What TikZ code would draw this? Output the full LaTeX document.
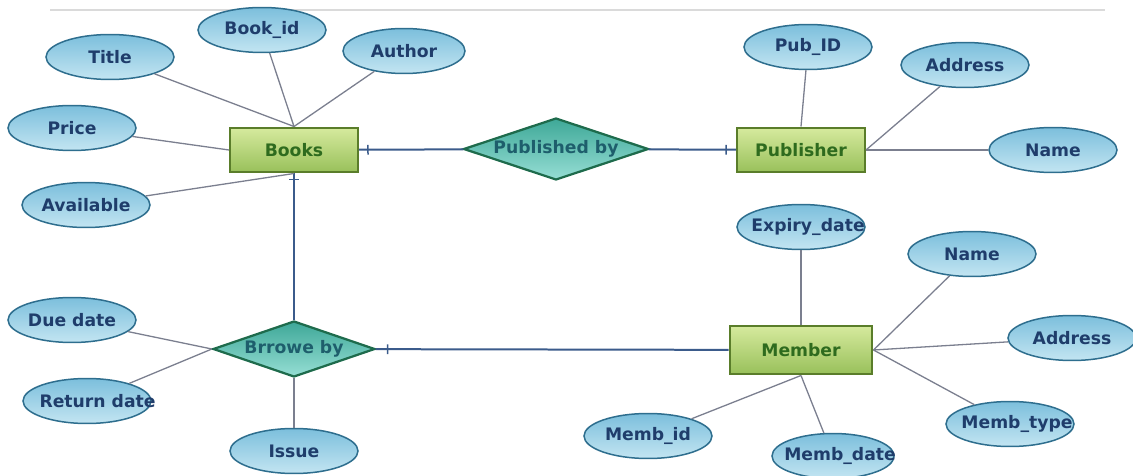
\documentclass[tikz,border=0pt]{standalone}
\usepackage{fontspec}
\setmainfont{DejaVu Sans}
\usetikzlibrary{shapes.geometric, decorations.markings}

\definecolor{attrtop}{HTML}{7CBFDC}
\definecolor{attrbot}{HTML}{C3E5F2}
\definecolor{attrborder}{HTML}{2E6E8E}
\definecolor{attrtext}{HTML}{1F3D6B}
\definecolor{enttop}{HTML}{D6EA9E}
\definecolor{entbot}{HTML}{98C05A}
\definecolor{entborder}{HTML}{5A7D2A}
\definecolor{enttext}{HTML}{2E6B1E}
\definecolor{reltop}{HTML}{3EA898}
\definecolor{relbot}{HTML}{96DED4}
\definecolor{relborder}{HTML}{1E6B4C}
\definecolor{reltext}{HTML}{1E5E6C}
\definecolor{linegray}{HTML}{7B7F8F}
\definecolor{linkblue}{HTML}{3B5B8B}
\definecolor{sepgray}{HTML}{DADADA}

% label that may run over the border of its shape
\newcommand{\overrun}[2][0pt]{\hspace*{#1}\makebox[0pt]{#2}}

\tikzset{
  labelfont/.style={font=\bfseries\fontsize{9.8}{11}\selectfont},
  attr/.style={ellipse, draw=attrborder, line width=0.03cm, top color=attrtop, bottom color=attrbot,
    minimum width=2.56cm, minimum height=0.9cm, inner sep=0pt, text=attrtext, labelfont},
  entity/.style={rectangle, draw=entborder, line width=0.04cm, top color=enttop, bottom color=entbot,
    minimum width=2.56cm, minimum height=0.9cm, text=enttext, labelfont},
  rel/.style={diamond, aspect=3, draw=relborder, line width=0.045cm, top color=reltop, bottom color=relbot,
    inner sep=0pt, text=reltext, labelfont},
  attrline/.style={draw=linegray, line width=0.026cm},
  relline/.style={draw=linkblue, line width=0.04cm},
  cardtick/.style={postaction={decorate, decoration={markings,
    mark=at position #1 with {\draw[linkblue, line width=0.03cm] (0pt,-2.8pt) -- (0pt,2.8pt);}}}}
}

\begin{document}
\begin{tikzpicture}[x=0.02cm, y=-0.02cm]
  \useasboundingbox (0,0) rectangle (1133,476);
  \draw[sepgray, line width=0.04cm] (50,10) -- (1105,10);

  % entities and relations
  \node[entity] (books) at (294,150) {Books};
  \node[entity] (publisher) at (801,150) {Publisher};
  \node[entity, minimum width=2.86cm, minimum height=0.98cm] (member) at (801,350) {Member};
  \node[rel, minimum width=3.7cm, minimum height=1.24cm] (pubby) at (556,149) {Published by};
  \node[rel, minimum width=3.24cm, minimum height=1.12cm] (brrow) at (294,349) {Brrowe by};

  % attributes
  \node[attr] (title) at (110,57) {Title};
  \node[attr] (bookid) at (262,30) {Book\_id};
  \node[attr, minimum width=2.44cm] (author) at (404,51) {Author};
  \node[attr] (price) at (72,128) {Price};
  \node[attr] (avail) at (86,205) {Available};
  \node[attr] (pubid) at (808,47) {Pub\_ID};
  \node[attr] (pubaddr) at (965,65) {Address};
  \node[attr] (pubname) at (1053,150) {Name};
  \node[attr] (duedate) at (72,320) {Due date};
  \node[attr] (retdate) at (87,401) {\overrun[12pt]{Return date}};
  \node[attr] (issue) at (294,451) {Issue};
  \node[attr] (expiry) at (801,227) {\overrun[8pt]{Expiry\_date}};
  \node[attr] (memname) at (972,254) {Name};
  \node[attr] (memaddr) at (1072,338) {Address};
  \node[attr] (membtype) at (1010,424) {\overrun[8pt]{Memb\_type}};
  \node[attr] (membid) at (648,436) {Memb\_id};
  \node[attr, minimum width=2.44cm] (membdate) at (833,456) {\overrun[8pt]{Memb\_date}};

  % relationship links
  \draw[relline, cardtick=0.18cm] (books) -- (pubby);
  \draw[relline, cardtick=-0.2cm] (pubby) -- (publisher);
  \draw[relline, cardtick=0.12cm] (books) -- (brrow);
  \draw[relline, cardtick=0.24cm] (brrow) -- (member);

  % attribute links
  \draw[attrline] (title) -- (books.north);
  \draw[attrline] (bookid) -- (books.north);
  \draw[attrline] (author) -- (books.north);
  \draw[attrline] (price) -- (books.west);
  \draw[attrline] (avail) -- (books.south);
  \draw[attrline] (pubid) -- (publisher.north);
  \draw[attrline] (pubaddr) -- (publisher.east);
  \draw[attrline] (pubname) -- (publisher.east);
  \draw[attrline] (duedate) -- (brrow.west);
  \draw[attrline] (retdate) -- (brrow.west);
  \draw[attrline] (issue) -- (brrow.south);
  \draw[attrline, line width=0.04cm] (expiry) -- (member.north);
  \draw[attrline] (memname) -- (member.east);
  \draw[attrline] (memaddr) -- (member.east);
  \draw[attrline] (membtype) -- (member.east);
  \draw[attrline] (membid) -- (member.south);
  \draw[attrline] (membdate) -- (member.south);
\end{tikzpicture}
\end{document}
